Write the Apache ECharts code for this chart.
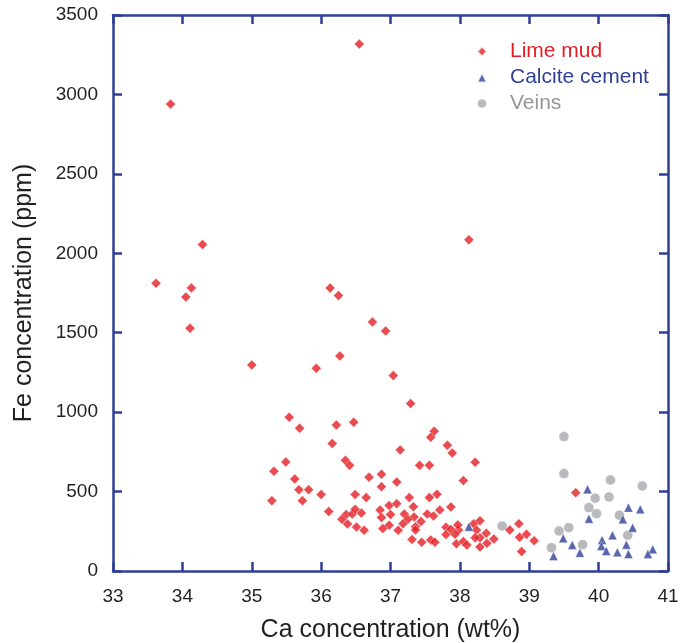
<!DOCTYPE html>
<html>
<head>
<meta charset="utf-8">
<script src="https://cdn.jsdelivr.net/npm/echarts@6/dist/echarts.min.js"></script>
<style>
  html, body { margin: 0; padding: 0; background: #fff; }
  #chart { width: 696px; height: 643px; }
</style>
</head>
<body>
<div id="chart"></div>
<script>
// Ca (wt%), Fe (ppm)
var limeMud = [
  [36.55,3317],[33.83,2939],[34.29,2055],[33.62,1811],[34.13,1782],[34.05,1725],[36.13,1782],[36.25,1734],
  [34.11,1528],[36.74,1568],[36.93,1511],[36.27,1354],[35.00,1297],[35.93,1276],[37.04,1230],[37.29,1054],
  [35.54,968],[35.69,899],[36.22,919],[36.47,936],[36.16,802],[37.63,880],[37.58,842],[37.82,791],
  [37.14,762],[37.89,743],[38.13,2085],
  [35.49,686],[35.32,628],[36.35,697],[36.41,665],[35.62,579],[36.69,590],[36.87,609],[36.87,531],
  [37.09,560],[35.68,512],[35.82,512],[36.00,481],[35.29,443],[35.73,443],[36.49,481],[36.65,462],
  [36.11,374],[36.36,355],[36.45,359],[36.49,388],[36.58,365],[36.30,325],[36.38,296],[36.51,277],
  [36.62,256],[36.85,384],[36.98,413],[37.09,424],[36.87,336],[37.00,355],[36.98,288],[36.89,267],
  [37.11,256],
  [37.42,665],[37.56,665],[38.22,685],[38.05,569],[37.67,483],[37.56,462],[37.27,462],[37.33,405],
  [37.87,403],[37.71,384],[37.20,359],[37.34,340],[37.53,359],[37.62,346],[37.25,325],[37.36,279],
  [37.44,311],[37.18,298],[37.36,258],[37.31,199],[37.45,181],[37.58,195],[37.64,181],[37.80,275],
  [37.80,229],[37.98,258],[37.87,262],[37.97,290],[37.93,231],[37.95,172],[38.05,185],[38.10,164],
  [38.20,298],[38.29,317],[38.24,258],[38.29,210],[38.29,151],[38.22,210],[38.38,237],[38.39,174],
  [38.49,201],[38.72,258],[38.85,298],[38.86,212],[38.96,231],[39.07,191],[38.89,122],[39.67,493]
];
var calciteCement = [
  [38.13,279],[39.84,514],[39.86,329],[39.49,206],[39.62,164],[39.73,115],[39.35,94],[40.43,399],
  [40.60,388],[40.49,273],[40.35,325],[40.20,225],[40.05,195],[40.40,166],[40.04,157],[40.11,126],
  [40.27,118],[40.43,107],[40.78,137],[40.71,107]
];
var veins = [
  [38.61,283],[39.50,846],[39.50,613],[39.43,252],[39.57,273],[39.32,147],[39.77,166],[39.95,458],
  [39.86,399],[39.97,361],[40.17,573],[40.63,535],[40.15,466],[40.30,351],[40.42,225]
];

var axisBlue = '#2f3f97';
var textDark = '#231f20';
var font = 'Liberation Sans, Arial, sans-serif';

var chart = echarts.init(document.getElementById('chart'));

function frameAxis(extra) {
  return Object.assign({
    axisLine: { show: true, onZero: false, lineStyle: { color: axisBlue, width: 2.5 } },
    axisTick: { show: true, inside: true, length: 9, lineStyle: { color: axisBlue, width: 2.5 } },
    splitLine: { show: false }
  }, extra);
}

chart.setOption({
  animation: false,
  grid: { left: 113, right: 28, top: 15, bottom: 72, outerBoundsMode: 'none', containLabel: false },
  legend: {
    orient: 'vertical',
    left: 471,
    top: 36,
    itemWidth: 10,
    itemHeight: 10,
    itemGap: 5,
    textStyle: { fontSize: 21, fontFamily: font, padding: [0, 0, 0, 18] },
    data: [
      { name: 'Lime mud', textStyle: { color: '#e31e25' } },
      { name: 'Calcite cement', textStyle: { color: '#2f3f97' } },
      { name: 'Veins', textStyle: { color: '#939598' } }
    ]
  },
  xAxis: [
    frameAxis({
      type: 'value', min: 33, max: 41, interval: 1, position: 'bottom',
      name: 'Ca concentration (wt%)', nameLocation: 'middle', nameGap: 47,
      nameTextStyle: { fontSize: 25, color: textDark, fontFamily: font },
      axisLabel: { fontSize: 19, color: textDark, fontFamily: font, margin: 16 }
    }),
    frameAxis({
      type: 'value', min: 33, max: 41, interval: 1, position: 'top',
      axisLabel: { show: false }
    })
  ],
  yAxis: [
    frameAxis({
      type: 'value', min: 0, max: 3500, interval: 500, position: 'left',
      name: 'Fe concentration (ppm)', nameLocation: 'middle', nameGap: 76,
      nameTextStyle: { fontSize: 25, color: textDark, fontFamily: font },
      axisLabel: { fontSize: 19, color: textDark, fontFamily: font, margin: 15,
        formatter: function (v) { return String(v); } }
    }),
    frameAxis({
      type: 'value', min: 0, max: 3500, interval: 500, position: 'right',
      axisLabel: { show: false }
    })
  ],
  series: [
    {
      name: 'Lime mud', type: 'scatter', symbol: 'diamond', symbolSize: 10,
      itemStyle: { color: '#e31e25', borderColor: '#fff', borderWidth: 0.5 },
      data: limeMud, z: 3
    },
    {
      name: 'Calcite cement', type: 'scatter', symbol: 'triangle', symbolSize: 9,
      itemStyle: { color: '#2f3f97', borderColor: '#fff', borderWidth: 0.5 },
      data: calciteCement, z: 4
    },
    {
      name: 'Veins', type: 'scatter', symbol: 'circle', symbolSize: 10,
      itemStyle: { color: '#a7a9ac', borderColor: '#fff', borderWidth: 0.5 },
      data: veins, z: 2
    }
  ]
});
</script>
</body>
</html>
